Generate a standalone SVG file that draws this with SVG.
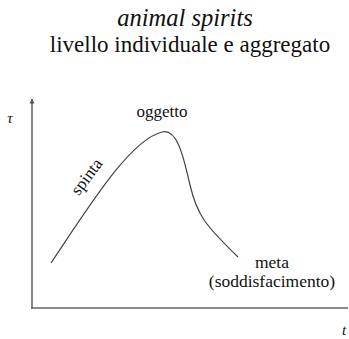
<svg xmlns="http://www.w3.org/2000/svg" width="349" height="339" viewBox="0 0 349 339">
<style>
.t{font-family:'Liberation Serif','Times New Roman','DejaVu Serif',serif;fill:#111}
.ax{stroke:#666;stroke-width:1.6;fill:none}
.cv{stroke:#444;stroke-width:1.2;fill:none}
</style>
<defs>
<marker id="ah" viewBox="0 0 10 10" refX="9" refY="5" markerWidth="5" markerHeight="6" orient="auto" markerUnits="userSpaceOnUse">
<path d="M0,0 L10,5 L0,10 z" fill="#555"/>
</marker>
</defs>
<g id="title">
<text class="t" x="185" y="26" font-size="24.5" font-style="italic" text-anchor="middle">animal spirits</text>
<text class="t" x="190" y="52" font-size="23" text-anchor="middle">livello individuale e aggregato</text>
</g>
<g id="connectors">
<line class="ax" x1="32" y1="309" x2="32" y2="99" marker-end="url(#ah)"/>
<line class="ax" x1="31" y1="308" x2="348" y2="308"/>
<path id="curve" class="cv" d="M51,263 C90,205 130,140 162,132 C178,128 184,160 190,185 C197,215 205,225 238,257"/>
</g>
<g id="axis-labels">
<text class="t" x="10" y="123" font-size="15" font-style="italic" text-anchor="middle">τ</text>
<text class="t" x="344" y="335" font-size="15" font-style="italic" text-anchor="middle">t</text>
</g>
<g id="oggetto"><text class="t" x="162" y="117" font-size="17" text-anchor="middle">oggetto</text></g>
<g id="spinta"><text class="t" x="0" y="0" font-size="17" text-anchor="middle" transform="translate(91,180) rotate(-53)">spinta</text></g>
<g id="meta">
<text class="t" x="272" y="268" font-size="17.5" text-anchor="middle">meta</text>
<text class="t" x="272" y="287" font-size="17.5" text-anchor="middle">(soddisfacimento)</text>
</g>
</svg>
